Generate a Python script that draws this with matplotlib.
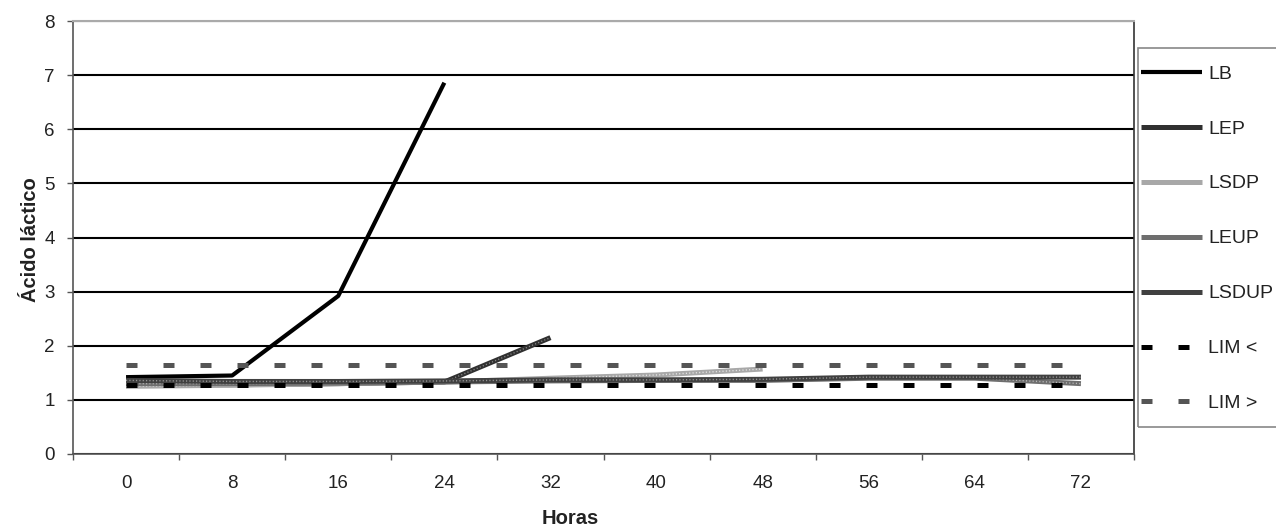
import numpy as np
import matplotlib
matplotlib.use("Agg")
import matplotlib.pyplot as plt
from matplotlib.patches import Rectangle

plt.rcParams['font.family'] = ['Liberation Sans', 'DejaVu Sans']

hours = ['0', '8', '16', '24', '32', '40', '48', '56', '64', '72']
nan = np.nan
lb = [1.42, 1.45, 2.92, 6.86, nan, nan, nan, nan, nan, nan]
lep = [1.30, 1.28, 1.30, 1.33, 2.15, nan, nan, nan, nan, nan]
lsdp = [1.25, 1.27, 1.30, 1.33, 1.40, 1.46, 1.57, nan, nan, nan]
leup = [1.30, 1.30, 1.31, 1.33, 1.35, 1.36, 1.36, 1.40, 1.40, 1.30]
lsdup = [1.36, 1.34, 1.34, 1.35, 1.37, 1.37, 1.38, 1.42, 1.42, 1.42]
lim_lo = [1.28, 1.28, 1.28, 1.28, 1.28, 1.28, 1.28, 1.28, 1.28, 1.28]
lim_hi = [1.65, 1.65, 1.65, 1.65, 1.65, 1.65, 1.65, 1.65, 1.65, 1.65]

fig = plt.figure(figsize=(12.76, 5.30), dpi=100)
ax = fig.add_axes([73/1276, 1-454/530, (1134-73)/1276, (454-21)/530])

x = np.arange(len(hours))
ax.plot(x, lb, color='black', lw=3.0, label='LB', solid_capstyle='butt')
# textured grey series: solid base line with a fine dotted overlay
textured = [(lep, '#303030', '#8a8a8a', 'LEP'),
            (lsdp, '#a8a8a8', '#e6e6e6', 'LSDP'),
            (leup, '#6e6e6e', '#b8b8b8', 'LEUP'),
            (lsdup, '#404040', '#9a9a9a', 'LSDUP')]
for vals, base, dots, name in textured:
    ax.plot(x, vals, color=base, lw=3.6, label=name, solid_capstyle='butt')
    ax.plot(x, vals, color=dots, lw=1.0, dashes=(0.8, 1.6), dash_capstyle='butt')
ax.plot(x, lim_lo, color='black', lw=3.6, dashes=(2.2, 5.2), label='LIM <', dash_capstyle='butt')
ax.plot(x, lim_hi, color='#555555', lw=3.6, dashes=(2.2, 5.2), label='LIM >', dash_capstyle='butt')

ax.set_xlim(-0.5, len(hours) - 0.5)
ax.set_ylim(0, 8)
ax.set_xticks(x)
ax.set_xticklabels(hours)
ax.set_xticks(np.arange(-0.5, len(hours)), minor=True)
ax.tick_params(axis='x', which='major', length=0, pad=15, labelsize=13.5, colors='#222222')
ax.tick_params(axis='x', which='minor', length=4, width=1, color='#555555')
ax.set_yticks(range(0, 9))
ax.tick_params(axis='y', length=4, width=1, pad=9, labelsize=13.5, color='#555555', labelcolor='#222222')
ax.yaxis.grid(True, color='black', lw=1.5)
ax.set_axisbelow(True)
for side in ['left', 'bottom']:
    ax.spines[side].set_color('#555555')
    ax.spines[side].set_linewidth(1.2)
ax.spines['top'].set_color('#aaaaaa')
ax.spines['top'].set_linewidth(1.5)
ax.spines['right'].set_color('#333333')
ax.spines['right'].set_linewidth(1.2)

fig.text(31/1276, 1-240/530, 'Ácido láctico', rotation=90, ha='center', va='center',
         fontsize=14.5, fontweight='bold', color='#222222')
fig.text(570/1276, 1-518/530, 'Horas', ha='center', va='center',
         fontsize=14.5, fontweight='bold', color='#222222')

fig.patches.append(Rectangle((1138/1276, 1-427/530), 150/1276, (427-48)/530,
                             transform=fig.transFigure, fill=False,
                             edgecolor='#888888', lw=1.2))
handles, labels = ax.get_legend_handles_labels()
leg = fig.legend(handles, labels, loc='upper left', bbox_to_anchor=(1141/1276, 1-65/530),
                 frameon=False, fontsize=14, handlelength=3.15, handletextpad=0.3,
                 labelspacing=1.92, borderpad=0, borderaxespad=0)
for t in leg.get_texts():
    t.set_color('#222222')

fig.savefig('out.png', dpi=100)
